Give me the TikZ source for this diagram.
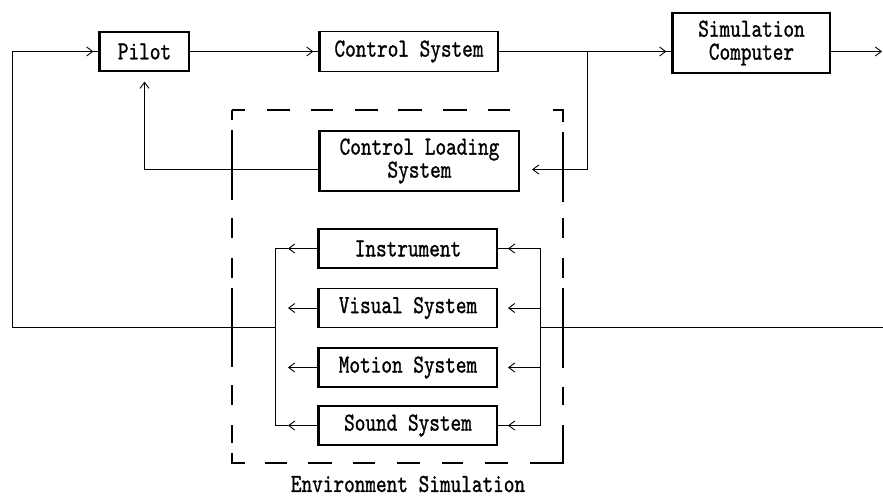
\documentclass[tikz,border=0pt]{standalone}
\usepackage{fontspec}
\newfontfamily\diagfont{lmmono10-regular}[Extension=.otf, FakeStretch=0.78, FakeBold=1]
\usetikzlibrary{arrows.meta,decorations.markings,calc}
\tikzset{
  tip/.tip={Straight Barb[length=6pt,width=9pt]},
  box/.style={draw, line width=1.2pt, inner sep=0pt, align=center,
    font=\fontsize{26}{23}\diagfont},
  lbl/.style={inner sep=0pt, font=\fontsize{26}{23}\diagfont},
  conn/.style={line width=0.9pt},
  tiparr/.style={conn, postaction={decorate},
    decoration={markings, mark=at position -6pt with {\arrow[line width=0.9pt]{tip}}}},
  gaparr/.style={conn, -tip},
  edgeL/.style={line width=2.2pt},
  envh/.style={line width=1.3pt},
  envv/.style={line width=2.4pt},
}
\begin{document}
\begin{tikzpicture}[x=1pt,y=-1pt]
\useasboundingbox (0,0) rectangle (883,496);
% nodes
\node[box, minimum width=89pt, minimum height=39pt] (pilot) at (144.5,51.5) {Pilot};
\node[box, minimum width=178pt, minimum height=40pt] (ctrl) at (409,51.5) {Control System};
\node[box, minimum width=157pt, minimum height=60pt] (simc) at (751.5,43) {Simulation\\Computer};
\node[box, minimum width=199pt, minimum height=60pt] (cls) at (419.5,161) {Control Loading\\System};
\node[box, minimum width=178pt, minimum height=39pt] (instr) at (408,248.5) {Instrument};
\node[box, minimum width=178pt, minimum height=39pt] (vis) at (408,308) {Visual System};
\node[box, minimum width=178pt, minimum height=39pt] (mot) at (408,367.5) {Motion System};
\node[box, minimum width=178pt, minimum height=39pt] (snd) at (408,425.5) {Sound System};
\node[lbl] (envlbl) at (408,484) {Environment Simulation};
\foreach \n in {pilot,ctrl,simc,cls,instr,vis,mot,snd}
  \draw[edgeL] (\n.north west) -- (\n.south west);
% coordinates
\coordinate (lc) at (12,327);
\coordinate (lb) at (275,327);
\coordinate (rb) at (540,327);
\coordinate (re) at (883,327);
\coordinate (br) at (587,51.5);
\coordinate (clsr) at (519,169.5);
\coordinate (clsl) at (320,169.5);
\coordinate (out) at (882,51.5);
\coordinate (ltip) at (288,0);
\coordinate (rtip) at (508,0);
% environment dashed box (hand-spaced dashes)
\foreach \a/\b in {110/120,130/200,218/238,258/278,288/367,385/405,425/443,453/463}
  \draw[envv] (232,\a) -- (232,\b);
\foreach \a/\b in {110/122,132/202,218/238,258/278,288/368,387/405,425/463}
  \draw[envv] (563,\a) -- (563,\b);
\foreach \a/\b in {232/245,267/290,311/333,355/378,398/422,443/467,488/510,553/564}
  \draw[envh] (\a,110) -- (\b,110);
\foreach \a/\b in {231/245,265/287,308/332,353/375,397/420,442/463,485/508,530/564}
  \draw[envh] (\a,463) -- (\b,463);
% main connectors
\draw[tiparr] (lb) -- (lc) |- (pilot.west);
\draw[tiparr] (pilot.east) -- (ctrl.west);
\draw[tiparr] (ctrl.east) -- (ctrl.east -| simc.west);
\draw[gaparr] (simc.east |- out) -- (out);
\draw[gaparr, shorten >=13pt] (br) |- (clsr);
\draw[gaparr, shorten >=10pt] (clsl) -| (pilot.south);
\draw[conn] (rb) -- (re);
% left bus
\draw[conn] (instr.west -| ltip) -- (instr.west -| lb) -- (snd.west -| lb) -- (snd.west -| ltip);
\foreach \n in {instr,vis,mot,snd}{
  \draw[gaparr] (\n.west) -- (\n.west -| ltip);
  \draw[gaparr] (\n.east -| rb) -- (\n.east -| rtip);
}
% right bus
\draw[conn] (instr.east) -- (instr.east -| rb) -- (snd.east -| rb) -- (snd.east);
\end{tikzpicture}
\end{document}
